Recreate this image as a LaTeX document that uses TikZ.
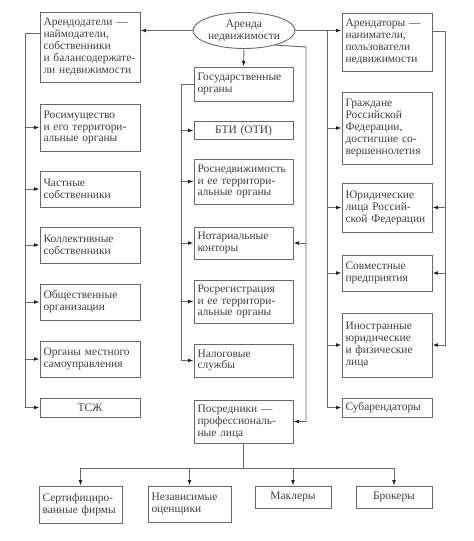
\documentclass[tikz,border=0pt]{standalone}
\usepackage{fontspec}
\setmainfont{Liberation Serif}
\usetikzlibrary{arrows.meta,shapes.geometric,calc}
\definecolor{linec}{HTML}{686868}
\definecolor{txtc}{HTML}{404040}
\definecolor{tipc}{HTML}{202020}
\begin{document}
\begin{tikzpicture}[x=1bp,y=-1bp,
  bx/.style 2 args={draw=linec, line width=0.9bp, inner xsep=3.5bp, inner ysep=1bp,
     text width=#1, minimum height=#2, align=left,
     font=\fontsize{11.5}{12}\selectfont, text=txtc},
  cbx/.style 2 args={bx={#1}{#2}, align=center},
  ln/.style={draw=linec, line width=0.9bp},
  arr/.style={ln, -{Latex[length=5.5bp,width=3.8bp,color=tipc]}}]
\fill[white] (0,0) rectangle (474,541);
\useasboundingbox (0,0) rectangle (474,541);
% ellipse
\node[ellipse, draw=linec, line width=0.9bp, minimum width=98bp, minimum height=36bp,
  inner sep=0pt, align=center, font=\fontsize{11.5}{12}\selectfont, text=txtc]
  (E) at (244,30.5) {Аренда\\недвижимости};
% left column
\node[bx={93bp}{70bp}] (L0) at (90,47) {Арендодатели —\\наймодатели,\\собственники\\и балансодержате-\\ли недвижимости};
\node[bx={93bp}{47bp}] (L1) at (90,127.5) {Росимущество\\и его территори-\\альные органы};
\node[bx={93bp}{36bp}] (L2) at (90,189) {Частные\\собственники};
\node[bx={93bp}{36bp}] (L3) at (90,245) {Коллективные\\собственники};
\node[bx={93bp}{36bp}] (L4) at (90,302) {Общественные\\организации};
\node[bx={93bp}{36bp}] (L5) at (90,359) {Органы местного\\самоуправления};
\node[cbx={93bp}{19bp}] (L6) at (90,407.5) {ТСЖ};
% centre column
\node[bx={92bp}{34bp}] (C0) at (243.5,84) {Государственные\\органы};
\node[cbx={92bp}{18bp}] (C1) at (243.5,130.5) {БТИ (ОТИ)};
\node[bx={92bp}{45bp}] (C2) at (243.5,181.5) {Роснедвижимость\\и ее территори-\\альные органы};
\node[bx={92bp}{32bp}] (C3) at (243.5,243) {Нотариальные\\конторы};
\node[bx={92bp}{43bp}] (C4) at (243.5,301.5) {Росрегистрация\\и ее территори-\\альные органы};
\node[bx={92bp}{33bp}] (C5) at (243.5,360.5) {Налоговые\\службы};
\node[bx={92bp}{43bp}] (C6) at (243.5,421.5) {Посредники —\\профессиональ-\\ные лица};
% right column
\node[bx={83bp}{58bp}] (R0) at (387,42) {Арендаторы —\\наниматели,\\пользователи\\недвижимости};
\node[bx={83bp}{72bp}] (R1) at (387,128) {Граждане\\Российской\\Федерации,\\достигшие со-\\вершеннолетия};
\node[bx={83bp}{49bp}] (R2) at (387,207.5) {Юридические\\лица Россий-\\ской Федерации};
\node[bx={83bp}{36bp}] (R3) at (387,273) {Совместные\\предприятия};
\node[bx={83bp}{64bp}] (R4) at (387,345) {Иностранные\\юридические\\и физические\\лица};
\node[bx={83bp}{19bp}] (R5) at (387,407.5) {Субарендаторы};
% bottom row
\node[bx={76bp}{37bp}] (B1) at (80.5,504.5) {Сертифициро-\\ванные фирмы};
\node[bx={76bp}{36bp}] (B2) at (189.5,504) {Независимые\\оценщики};
\node[cbx={69bp}{22bp}] (B3) at (293,497) {Маклеры};
\node[cbx={69bp}{22bp}] (B4) at (394,497) {Брокеры};
% left connectors
\coordinate (ll) at (25,33);
\draw[ln] (L0.west |- ll) -- (ll);
\draw[arr] (ll) |- (L6.west);
\foreach \n in {L1,L2,L3,L4,L5} \draw[arr] (ll |- \n.west) -- (\n.west);
\draw[arr] (E.west) -- (E.west -| L0.east);
% centre connectors
\draw[arr] (E.south) -- (C0.north);
\coordinate (cl) at (181,84);
\draw[arr] (C0.west) -- (cl) |- (C5.west);
\foreach \n in {C1,C2,C3,C4} \draw[arr] (cl |- \n.west) -- (\n.west);
\coordinate (cr) at (306,47);
\draw[arr] (E.335) -- (cr) |- (C6.east);
\draw[arr] (cr |- C3.east) -- (C3.east);
% right connectors
\coordinate (rl) at (327,31);
\draw[arr] (E.east) -- (E.east -| R0.west);
\draw[arr] (rl) |- (R5.west);
\foreach \n in {R1,R2,R3,R4} \draw[arr] (rl |- \n.west) -- (\n.west);
\coordinate (rr) at (445,31);
\draw[arr] (R0.east |- rr) -- (rr) |- (R4.east);
\foreach \n in {R2,R3} \draw[arr] (rr |- \n.east) -- (\n.east);
% bottom connectors
\coordinate (bj) at (243.5,468);
\draw[ln] (C6.south) -- (bj);
\draw[ln] (bj -| B1.north) -- (bj -| B4.north);
\foreach \n in {B1,B2,B3,B4} \draw[arr] (bj -| \n.north) -- (\n.north);
\end{tikzpicture}
\end{document}
